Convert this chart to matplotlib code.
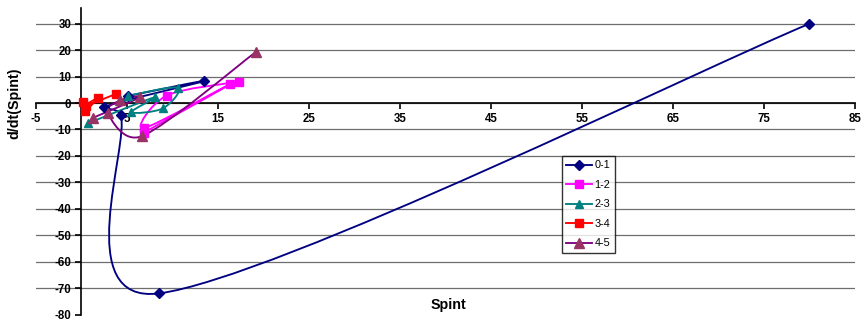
import numpy as np
import matplotlib
matplotlib.use("Agg")
import matplotlib.pyplot as plt
from matplotlib.path import Path
from matplotlib.patches import PathPatch
from matplotlib.lines import Line2D

plt.rcParams['font.family'] = ['Liberation Sans', 'DejaVu Sans']

# ---- data ----
series_names = ["0-1", "1-2", "2-3", "3-4", "4-5"]
x01 = [5.2, 13.5, 2.5, 4.35, 8.6, 80.0]
y01 = [2.7, 8.3, -1.5, -4.5, -72.0, 30.0]
x12 = [17.3, 9.4, 6.9, 16.4, 6.9]
y12 = [8.1, 2.8, -9.5, 7.2, -11.2]
x23 = [0.8, 8.1, 5.5, 9.0, 10.6, 5.2]
y23 = [-7.6, 2.2, -3.5, -2.0, 5.8, 2.8]
x34 = [0.2, 0.4, 1.8, 0.5, 3.8]
y34 = [0.5, -3.0, 1.8, -1.0, 3.4]
x45 = [1.3, 6.5, 4.3, 2.9, 6.7, 19.2]
y45 = [-5.6, 2.2, 1.0, -3.8, -12.5, 19.3]
xticks = [-5, 5, 15, 25, 35, 45, 55, 65, 75, 85]
yticks = [-80, -70, -60, -50, -40, -30, -20, -10, 0, 10, 20, 30]

xs_all = [x01, x12, x23, x34, x45]
ys_all = [y01, y12, y23, y34, y45]
line_colors = ["#000080", "#FF00FF", "#008080", "#FF0000", "#800080"]
marker_colors = ["#000080", "#FF00FF", "#008080", "#FF0000", "#993366"]
markers = ["D", "s", "^", "s", "^"]
msizes = [5, 6, 6, 6, 6.5]


def smooth_path(ax, xs, ys):
    """Excel-style smoothed line: Bezier segments computed in display space."""
    tr = ax.transData
    P = tr.transform(np.column_stack([xs, ys]).astype(float))
    n = len(P)
    verts = [P[0]]
    codes = [Path.MOVETO]
    for i in range(n - 1):
        p0 = P[i - 1] if i > 0 else P[i]
        p1 = P[i]
        p2 = P[i + 1]
        p3 = P[i + 2] if i + 2 < n else P[i + 1]
        d02 = np.hypot(*(p2 - p0))
        d12 = np.hypot(*(p2 - p1))
        d13 = np.hypot(*(p3 - p1))
        f0 = 1 / 6.0
        f3 = 1 / 6.0
        if d02 > 0 and d02 / 6 >= d12 / 2:
            f0 = d12 / d02 / 2
        if d13 > 0 and d13 / 6 >= d12 / 2:
            f3 = d12 / d13 / 2
        c1 = p1 + f0 * (p2 - p0)
        c2 = p2 - f3 * (p3 - p1)
        verts += [c1, c2, p2]
        codes += [Path.CURVE4] * 3
    verts = tr.inverted().transform(np.array(verts))
    return Path(verts, codes)


W, H = 862, 321
fig = plt.figure(figsize=(W / 100, H / 100), dpi=100)
y0px, ybot = 103.0, 314.5
pxu = (ybot - y0px) / 80.0
ymax = (y0px - 8.2) / pxu
ax = fig.add_axes([35.6 / W, (H - ybot) / H, (855 - 35.6) / W, (ybot - 8.2) / H])
ax.set_xlim(-5, 85)
ax.set_ylim(-80, ymax)

for xs, ys, lc, mc, mk, ms in zip(xs_all, ys_all, line_colors, marker_colors, markers, msizes):
    patch = PathPatch(smooth_path(ax, xs, ys), facecolor="none", edgecolor=lc,
                      lw=1.35, transform=ax.transData, zorder=3)
    ax.add_patch(patch)
    ax.plot(xs, ys, linestyle="none", marker=mk, ms=ms, color=mc,
            markeredgecolor=mc, zorder=4)

# axes styling (Excel-like crossing axes)
for s in ["top", "right"]:
    ax.spines[s].set_visible(False)
ax.spines["left"].set_position(("data", 0))
ax.spines["bottom"].set_position(("data", 0))
ax.spines["left"].set_linewidth(1.2)
ax.spines["bottom"].set_linewidth(1.2)
ax.spines["left"].set_zorder(2)
ax.spines["bottom"].set_zorder(2)

ax.set_xticks(xticks)
ax.set_yticks(yticks)
ax.set_xticklabels([str(v) for v in xticks])
ax.set_yticklabels([str(v) for v in yticks])
ax.tick_params(axis="both", direction="out", length=4, width=1.2, labelsize=8.3, pad=3)
for lab in ax.get_xticklabels() + ax.get_yticklabels():
    lab.set_fontweight("bold")

ax.yaxis.grid(True, color="#6e6e6e", lw=0.9, zorder=1)
ax.set_axisbelow(True)
ax.get_ygridlines()[0].set_visible(False)

fig.text(14 / W, 1 - 103 / H, "d/dt(Spint)", rotation=90, ha="center", va="center",
         fontsize=10.3, fontweight="bold")
fig.text(448 / W, 1 - 305 / H, "Spint", ha="center", va="center",
         fontsize=10.3, fontweight="bold")

handles = [Line2D([], [], color=lc, marker=mk, ms=ms, markerfacecolor=mc, markeredgecolor=mc, lw=1.35)
           for lc, mc, mk, ms in zip(line_colors, marker_colors, markers, msizes)]
leg = fig.legend(handles, series_names, loc="upper left",
                 bbox_to_anchor=(562 / W, 1 - 156 / H), fontsize=7.8,
                 frameon=True, fancybox=False, shadow=False, edgecolor="black",
                 handlelength=2.4, handletextpad=0.2, labelspacing=0.88,
                 borderpad=0.4, borderaxespad=0)
leg.get_frame().set_linewidth(1.0)

fig.savefig("out.png", dpi=100)
